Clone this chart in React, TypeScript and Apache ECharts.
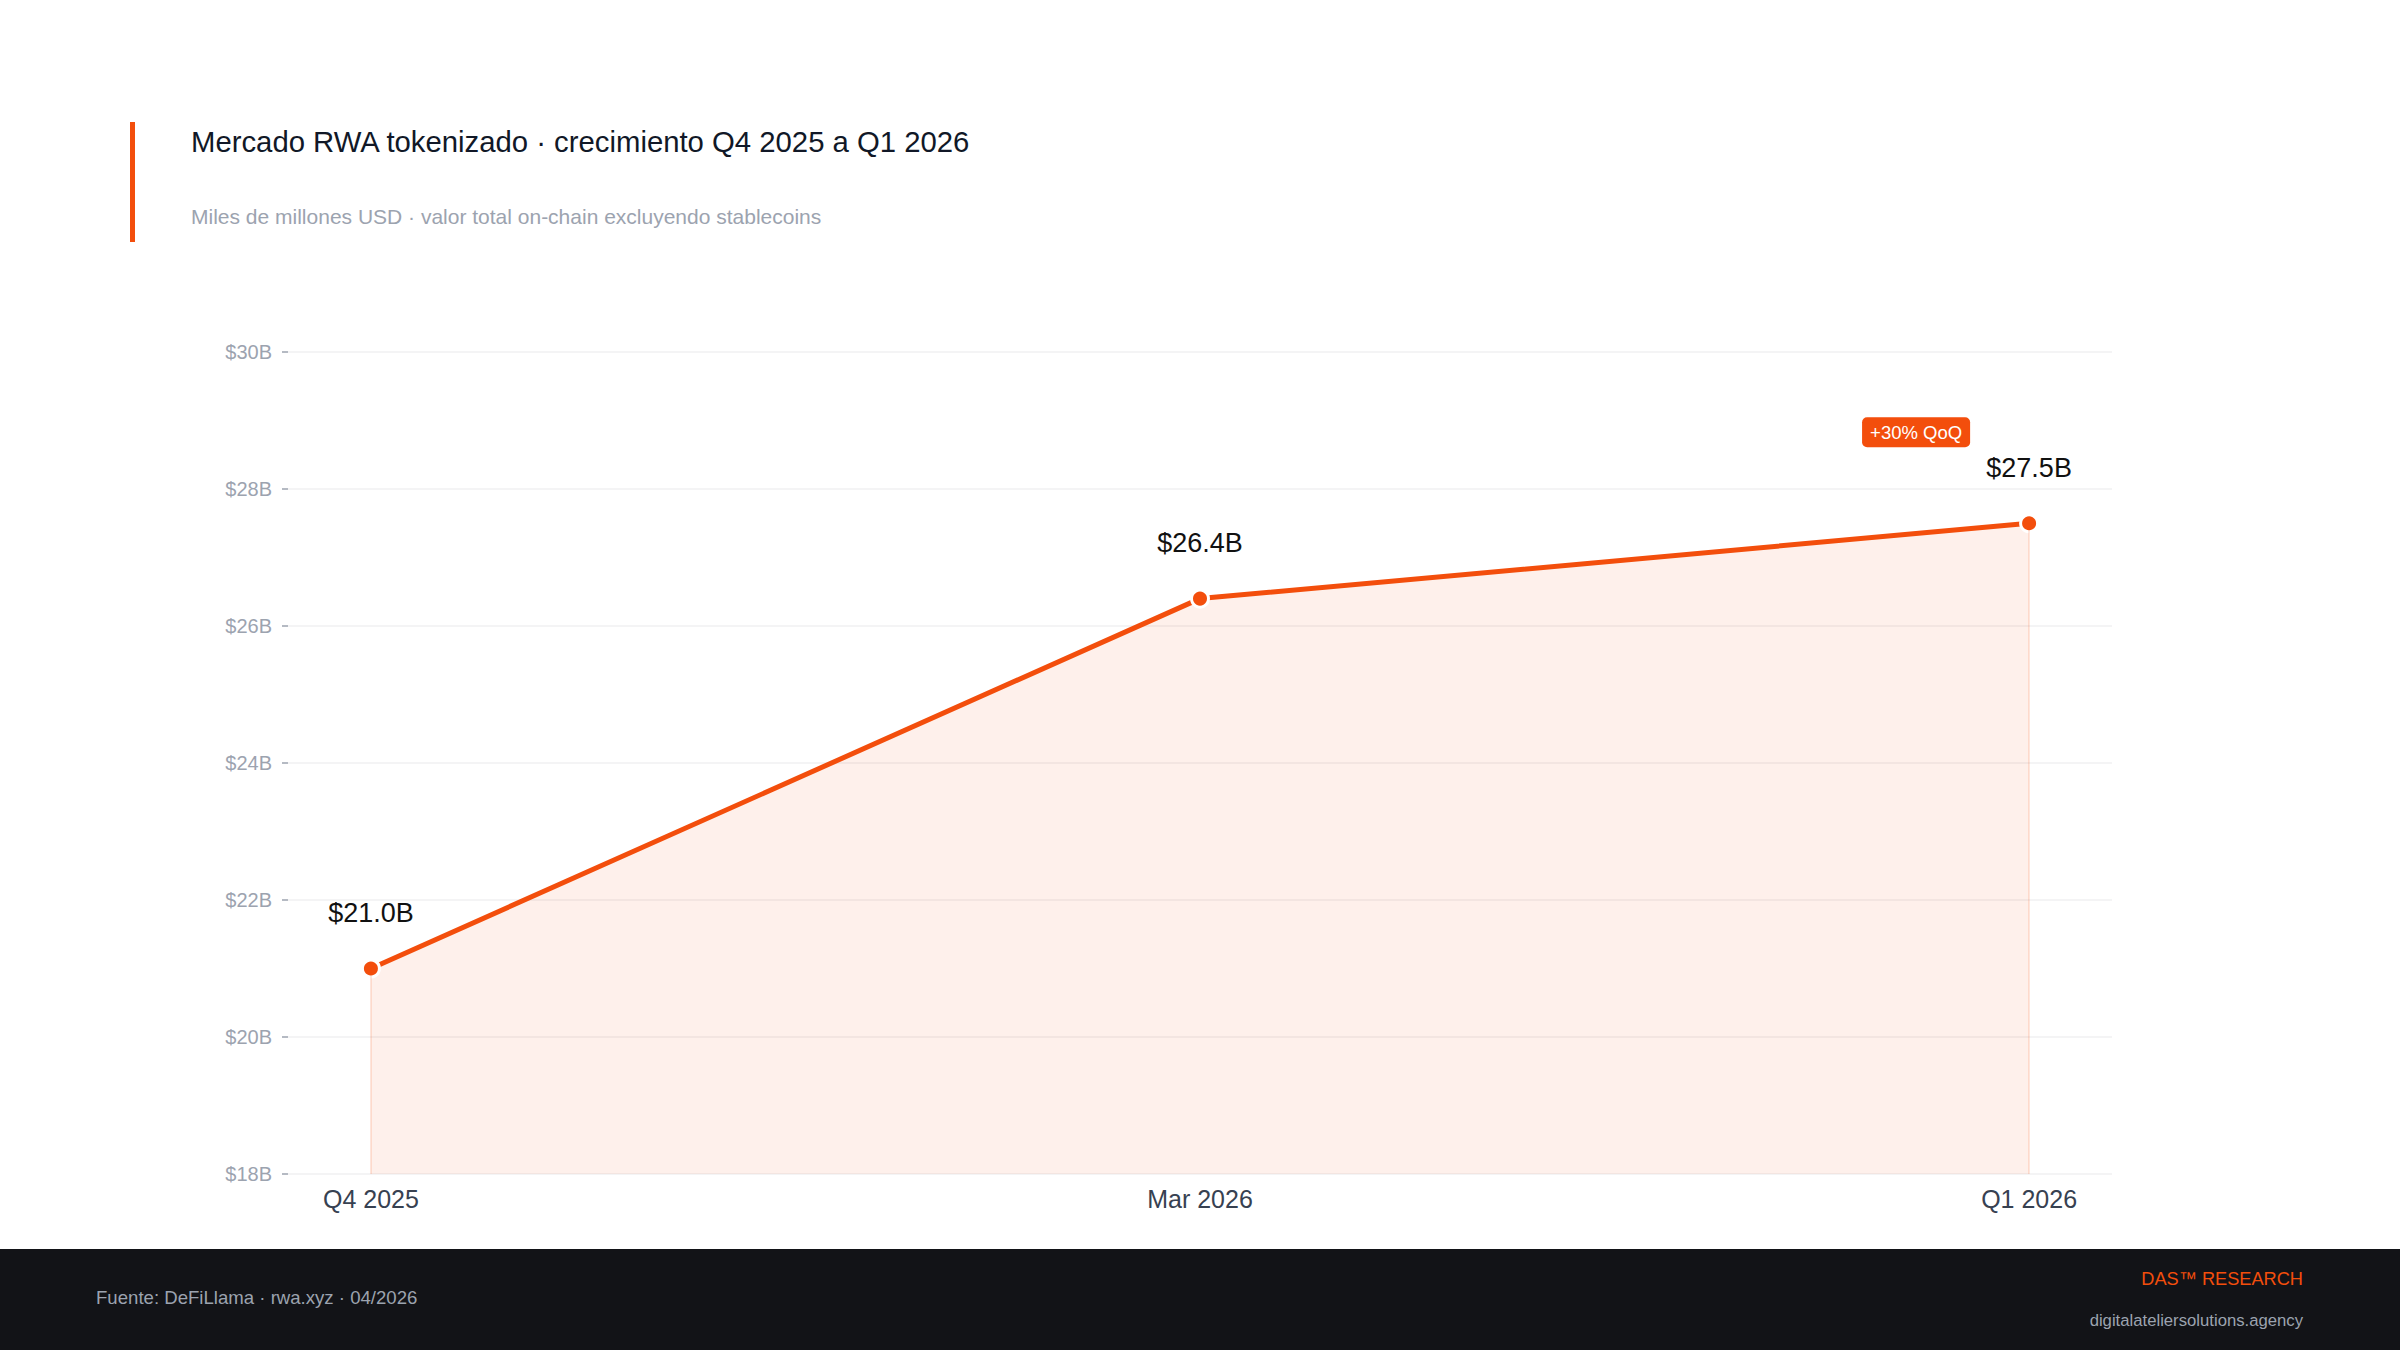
import { useEffect, useRef } from 'react'
import * as echarts from 'echarts'

// Chart data
const categories = ['Q4 2025', 'Mar 2026', 'Q1 2026']
const values = [21.0, 26.4, 27.5]
const yMin = 18
const yMax = 30
const yStep = 2
const badgeText = '+30% QoQ'

const ORANGE = '#f34e0c'
const FONT = '"Liberation Sans", Arial, Helvetica, sans-serif'

export default function App(): JSX.Element {
  const chartRef = useRef<HTMLDivElement>(null)

  useEffect(() => {
    if (!chartRef.current) return
    const chart = echarts.init(chartRef.current, null, { renderer: 'svg' })

    const points = values.map((v, i) => [i, v])
    const last = values.length - 1

    const option: echarts.EChartsOption = {
      animation: false,
      backgroundColor: '#ffffff',
      textStyle: { fontFamily: FONT },
      grid: { left: 288, right: 288, top: 352, bottom: 176, containLabel: false },
      xAxis: {
        type: 'value',
        min: -0.1,
        max: last + 0.1,
        axisLine: { show: false, onZero: false },
        axisTick: { show: false },
        splitLine: { show: false },
        axisLabel: {
          customValues: categories.map((_, i) => i),
          formatter: (v: number) => categories[Math.round(v)] ?? '',
          color: '#374151',
          fontSize: 25,
          margin: 12,
          fontFamily: FONT
        }
      } as any,
      yAxis: {
        type: 'value',
        min: yMin,
        max: yMax,
        interval: yStep,
        axisLine: { show: false, onZero: false },
        axisTick: { show: true, length: 6, lineStyle: { color: '#9ca3af', width: 1.5 } },
        axisLabel: {
          formatter: (v: number) => `$${v}B`,
          color: '#9ca3af',
          fontSize: 20,
          margin: 16,
          fontFamily: FONT
        },
        splitLine: { lineStyle: { color: '#f0f0f2', width: 1.5 } }
      },
      series: [
        {
          type: 'line',
          data: points,
          lineStyle: { color: ORANGE, width: 5 },
          areaStyle: { color: 'rgba(243, 78, 12, 0.12)', origin: 'start' },
          symbol: 'circle',
          symbolSize: 17,
          itemStyle: { color: ORANGE, borderColor: '#ffffff', borderWidth: 3 },
          label: {
            show: true,
            position: 'top',
            distance: 32,
            color: '#111111',
            fontSize: 27,
            fontFamily: FONT,
            formatter: (p: any) => `$${p.value[1].toFixed(1)}B`
          },
          markLine: {
            silent: true,
            symbol: 'none',
            label: { show: false },
            lineStyle: { color: 'rgba(243, 78, 12, 0.18)', width: 1.5, type: 'solid' },
            data: [
              [{ coord: [0, yMin] }, { coord: [0, values[0]] }],
              [{ coord: [last, yMin] }, { coord: [last, values[last]] }]
            ]
          } as any,
          markPoint: {
            silent: true,
            symbol: 'circle',
            symbolSize: 0,
            data: [{ coord: [last, values[last]] }],
            label: {
              show: true,
              position: 'inside',
              formatter: badgeText,
              offset: [-113, -91],
              color: '#ffffff',
              fontSize: 18.5,
              fontFamily: FONT,
              backgroundColor: ORANGE,
              borderRadius: 5,
              padding: [6, 8, 5, 8]
            }
          } as any
        }
      ],
      graphic: [
        // accent bar beside the title
        { type: 'rect', left: 130, top: 122, shape: { width: 5, height: 120 }, style: { fill: ORANGE } },
        {
          type: 'text',
          x: 191,
          y: 141,
          style: {
            text: 'Mercado RWA tokenizado · crecimiento Q4 2025 a Q1 2026',
            fill: '#111827',
            fontSize: 29.3,
            fontFamily: FONT,
            verticalAlign: 'middle'
          }
        },
        {
          type: 'text',
          x: 191,
          y: 216,
          style: {
            text: 'Miles de millones USD · valor total on-chain excluyendo stablecoins',
            fill: '#9ca3af',
            fontSize: 21,
            fontFamily: FONT,
            verticalAlign: 'middle'
          }
        },
        // footer band
        { type: 'rect', left: 0, top: 1249, shape: { width: 2400, height: 101 }, style: { fill: '#121317' } },
        {
          type: 'text',
          x: 96,
          y: 1297,
          style: {
            text: 'Fuente: DeFiLlama · rwa.xyz · 04/2026',
            fill: '#9ca3af',
            fontSize: 18.6,
            fontFamily: FONT,
            verticalAlign: 'middle'
          }
        },
        {
          type: 'text',
          x: 2303,
          y: 1279,
          style: {
            text: 'DAS™ RESEARCH',
            fill: ORANGE,
            fontSize: 18.2,
            fontFamily: FONT,
            align: 'right',
            verticalAlign: 'middle'
          }
        },
        {
          type: 'text',
          x: 2303,
          y: 1320,
          style: {
            text: 'digitalateliersolutions.agency',
            fill: '#9ca3af',
            fontSize: 16.7,
            fontFamily: FONT,
            align: 'right',
            verticalAlign: 'middle'
          }
        }
      ]
    }

    chart.setOption(option)

    return () => {
      chart.dispose()
    }
  }, [])

  return (
    <div
      ref={chartRef}
      style={{ position: 'fixed', left: 0, top: 0, width: 2400, height: 1350, background: '#ffffff' }}
    />
  )
}
